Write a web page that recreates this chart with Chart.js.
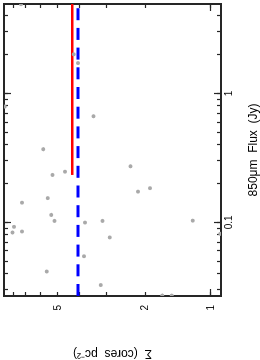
<!DOCTYPE html>
<html>
<head>
<meta charset="utf-8">
<script src="https://cdn.jsdelivr.net/npm/chart.js@4"></script>
<style>
  html, body { margin: 0; padding: 0; background: #fff; overflow: hidden; }
  /* the figure is printed on its side: turn the whole chart 90deg anticlockwise */
  #wrap { position: absolute; left: 0; top: 0; width: 360px; height: 260px;
          transform-origin: 0 0; transform: translate(0, 360px) rotate(-90deg); }
</style>
</head>
<body>
<div id="wrap"><canvas id="sigma" width="360" height="260"></canvas></div>
<script>
// =====================
// Sigma vs 850um flux
// =====================
var fluxJy = [4.92, 2.01, 1.72, 0.79, 0.665, 0.369, 0.272, 0.247, 0.233, 0.173,
              0.184, 0.154, 0.142, 0.114, 0.1025, 0.0995, 0.1025, 0.103, 0.0922, 0.0833,
              0.0848, 0.0763, 0.0814, 0.0545, 0.0415, 0.0326, 0.027, 0.027];
var sigma  = [7.36, 4.23, 4.04, 8.74, 3.44, 5.83, 2.33, 4.63, 5.29, 2.15,
              1.90, 5.56, 7.28, 5.35, 5.17, 3.76, 3.13, 1.21, 7.93, 8.04,
              7.28, 2.90, 0.908, 3.80, 5.62, 3.18, 1.67, 1.51];

var redFlux = [0.233, 6];   // solid red level
var redSigma = 4.30;
var blueFlux = [0.0268, 6]; // dashed blue level
var blueSigma = 4.04;

var fluxRange = [0.0268, 4.94];
var sigmaRange = [0.9, 8.8];
var fluxMinor = [0.03, 0.04, 0.05, 0.06, 0.07, 0.08, 0.09, 0.2, 0.3, 0.4, 0.5, 0.6, 0.7, 0.8, 0.9, 2, 3, 4];
var fluxMajor = [0.1, 1];
var fluxLabels = [0.1, 1];
var sigmaMinor = [2, 3, 4, 5, 6, 7, 8];
var sigmaMajor = [1];
var sigmaLabels = [1, 2, 5];

var font = 'Liberation Sans, Arial, sans-serif';

function axis(position, range, values, tickLength, weight, size, opts) {
  opts = opts || {};
  return {
    type: 'logarithmic',
    axis: (position === 'top' || position === 'bottom') ? 'x' : 'y',
    position: position,
    min: range[0],
    max: range[1],
    weight: weight,
    afterBuildTicks: function (s) {
      s.ticks = values.map(function (v) { return { value: v }; });
    },
    afterFit: function (s) {
      if (s.isHorizontal()) s.height = size; else s.width = size;
      // labels never overhang the frame, so no extra room is needed
      s.paddingTop = s.paddingBottom = s.paddingLeft = s.paddingRight = 0;
    },
    grid: {
      display: true,
      drawOnChartArea: false,
      drawTicks: true,
      tickLength: tickLength, // negative = ticks point inwards
      tickColor: '#262626',
      tickWidth: 1.2
    },
    border: { display: !!opts.border, color: '#262626', width: 2 },
    ticks: {
      display: !!opts.labels,
      autoSkip: false,
      maxRotation: 0,
      minRotation: 0,
      padding: opts.padding || 0,
      color: '#000',
      font: { family: font, size: 10 },
      callback: function (v) {
        return opts.labels && opts.labels.indexOf(v) >= 0 ? String(v) : '';
      }
    },
    title: opts.title || { display: false }
  };
}

var points = fluxJy.map(function (f, i) { return { x: f, y: sigma[i] }; });

var ctxSigma = document.getElementById('sigma').getContext('2d');

var sigmaChart = new Chart(ctxSigma, {
  type: 'scatter',
  data: {
    datasets: [
      {
        data: points,
        pointRadius: 2,
        pointBackgroundColor: '#a9a9a9',
        pointBorderWidth: 0,
        order: 0
      },
      {
        type: 'line',
        showLine: true,
        data: redFlux.map(function (f) { return { x: f, y: redSigma }; }),
        borderColor: '#ff0000',
        borderWidth: 2.5,
        pointRadius: 0,
        order: 1
      },
      {
        type: 'line',
        showLine: true,
        data: blueFlux.map(function (f) { return { x: f, y: blueSigma }; }),
        borderColor: '#0000ff',
        borderWidth: 3,
        borderDash: [12, 7.7],
        pointRadius: 0,
        order: 2
      }
    ]
  },
  options: {
    responsive: false,
    animation: false,
    layout: { padding: { top: 1, right: 1.5, left: 0, bottom: 0 } },
    plugins: { legend: { display: false }, tooltip: { enabled: false } },
    scales: {
      x: axis('bottom', fluxRange, fluxMinor.concat(fluxMajor), -4, 1, 39, {
        border: true, labels: fluxLabels, padding: 6,
        title: {
          display: true, text: '850μm  Flux  (Jy)', color: '#000',
          font: { family: font, size: 12, lineHeight: 1 },
          padding: { top: 0, bottom: 0 }
        }
      }),
      xMaj: axis('bottom', fluxRange, fluxMajor, -7, 0, 0),
      xTop: axis('top', fluxRange, fluxMinor.concat(fluxMajor), -4, 1, 0, { border: true }),
      xTopMaj: axis('top', fluxRange, fluxMajor, -7, 0, 0),
      y: axis('left', sigmaRange, sigmaMinor.concat(sigmaMajor), -4, 1, 64, {
        border: true, labels: sigmaLabels, padding: 13,
        title: {
          display: true, text: 'Σ  (cores  pc⁻²)', color: '#000',
          font: { family: font, size: 12, lineHeight: 1 },
          padding: { top: 1, bottom: 0 }
        }
      }),
      yMaj: axis('left', sigmaRange, sigmaMajor, -7, 0, 0),
      yRight: axis('right', sigmaRange, sigmaMinor.concat(sigmaMajor), -4, 1, 0, { border: true }),
      yRightMaj: axis('right', sigmaRange, sigmaMajor, -7, 0, 0)
    }
  }
});
</script>
</body>
</html>
